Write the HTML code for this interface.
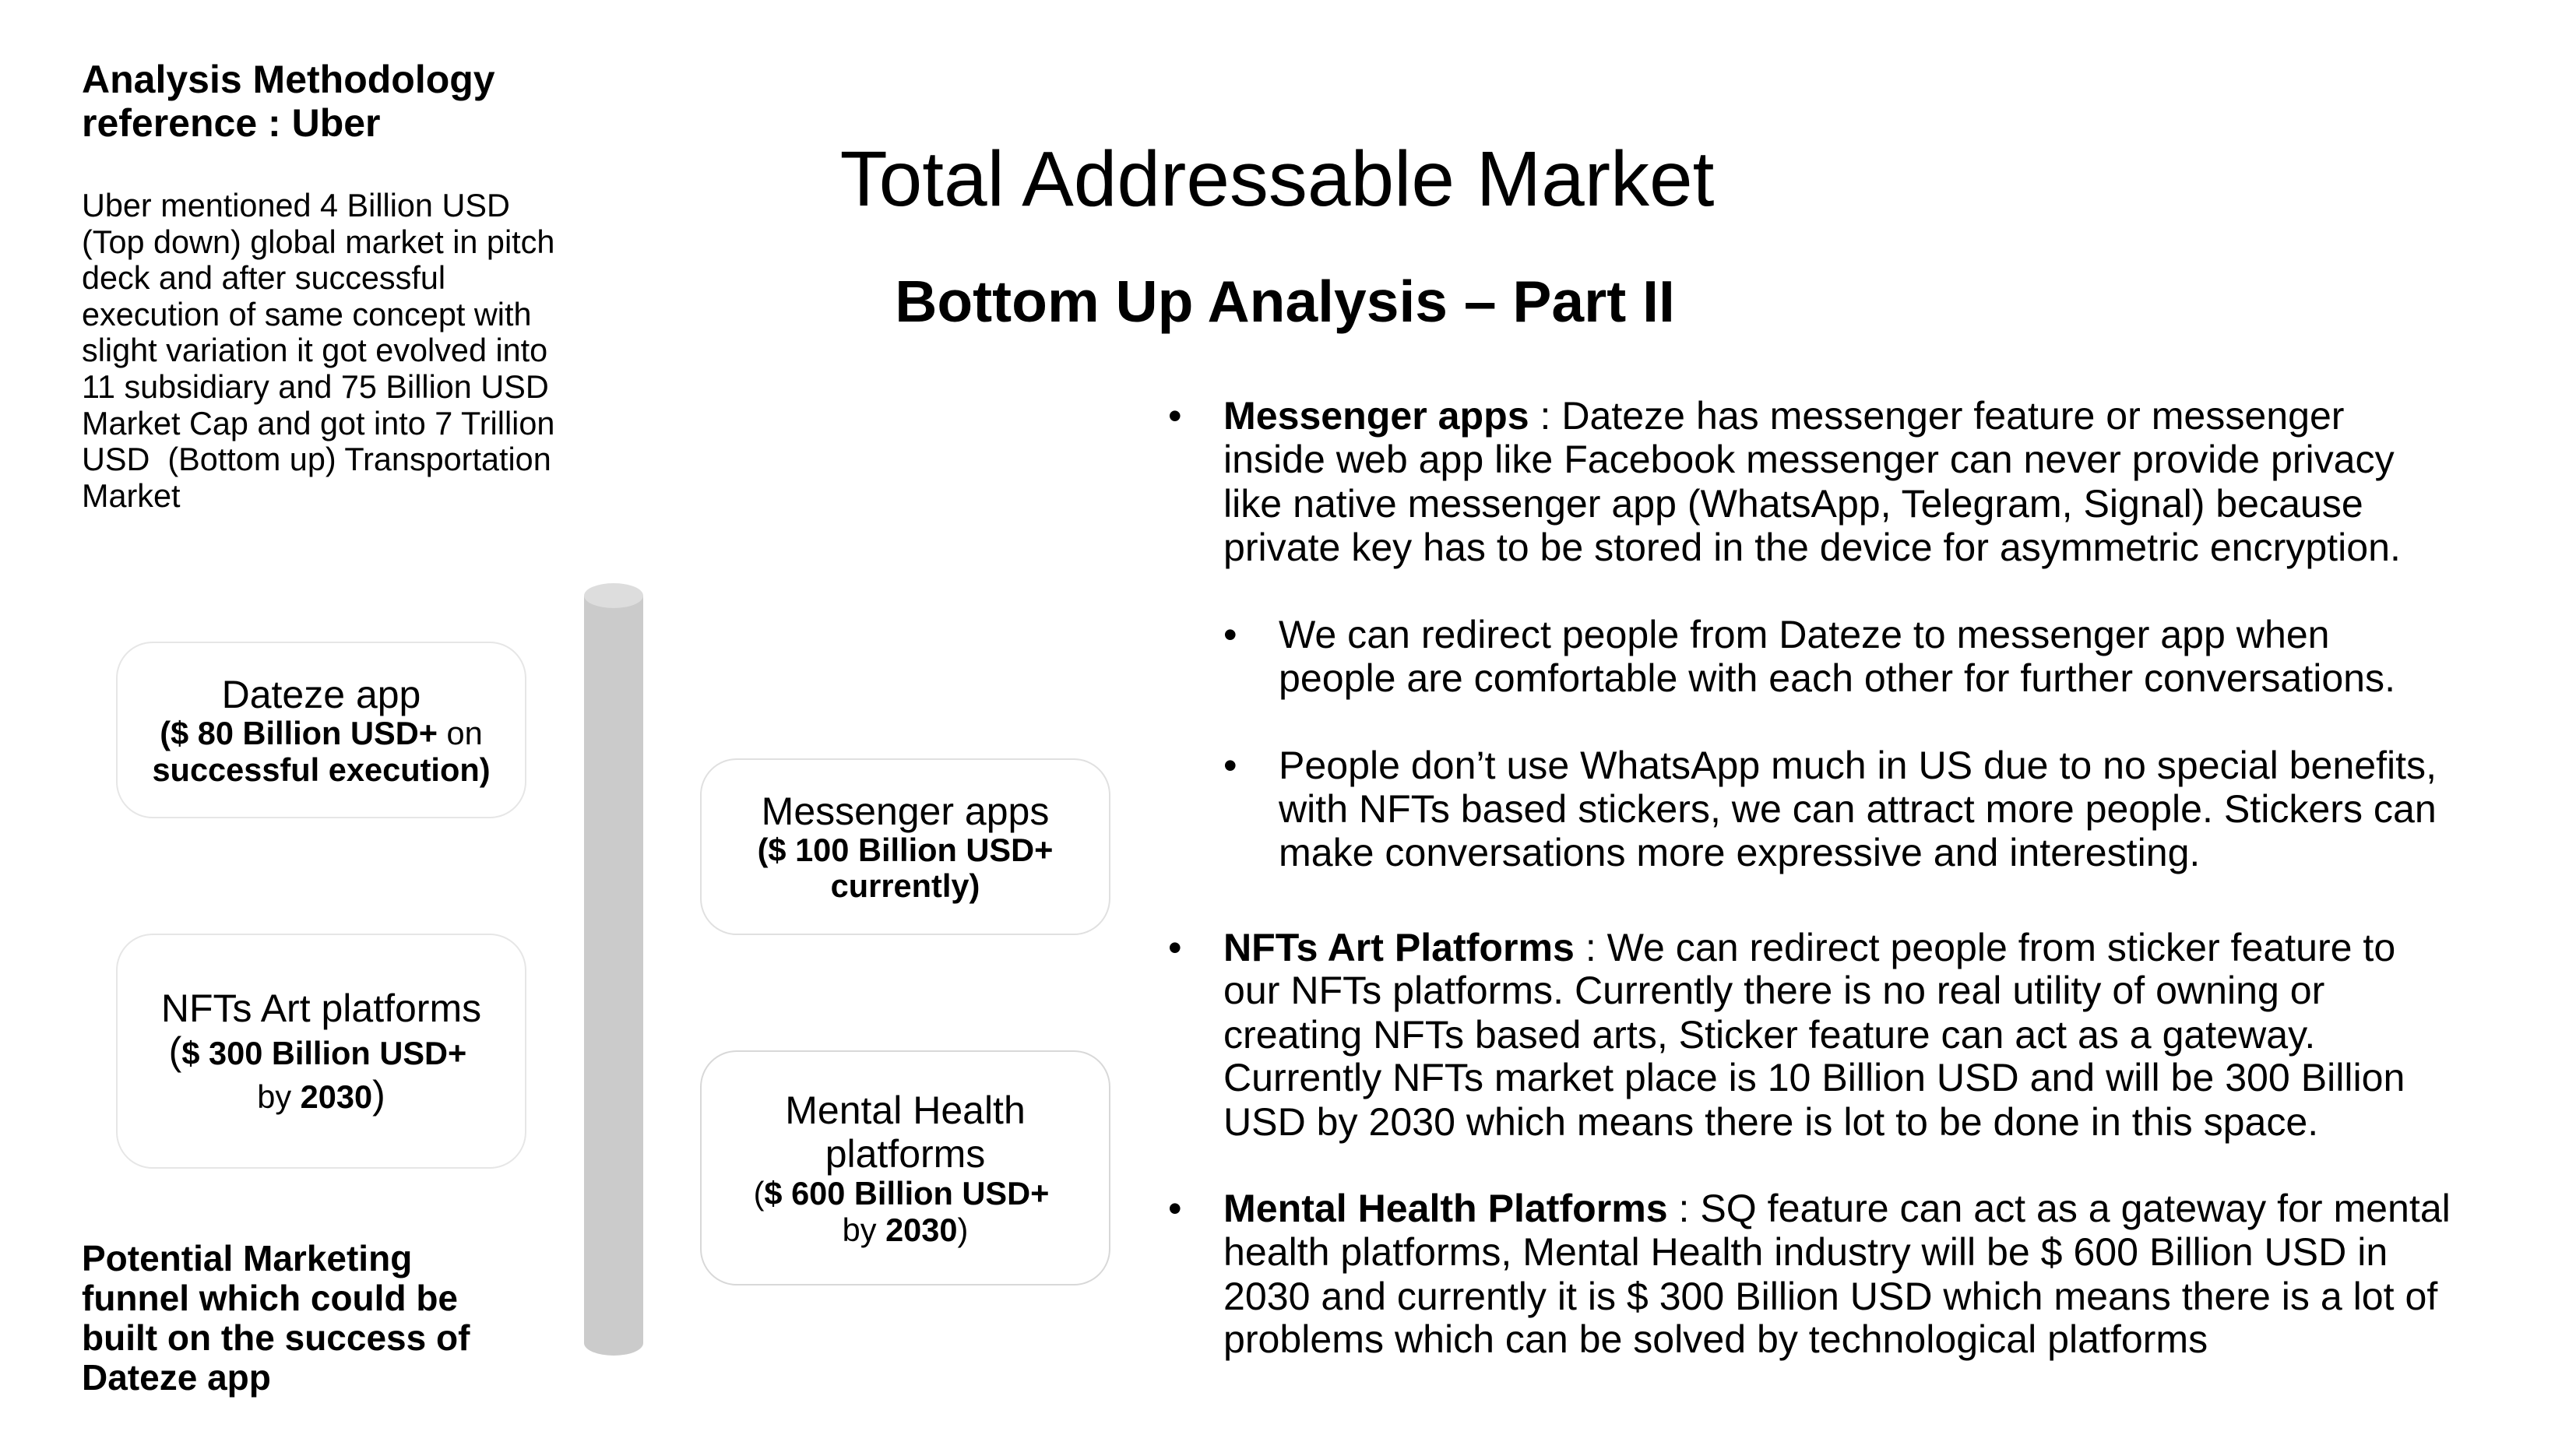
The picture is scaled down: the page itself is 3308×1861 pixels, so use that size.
<!DOCTYPE html>
<html lang="en">
<head>
<meta charset="utf-8">
<title>Total Addressable Market</title>
<style>
html,body{margin:0;padding:0;background:#fff;width:3308px;height:1861px;overflow:hidden}
svg{display:block;position:absolute;left:0;top:0}
text{font-family:"Liberation Sans",Arial,sans-serif;fill:#000;white-space:pre}
.b{font-weight:700}
.m{text-anchor:middle}
.u{font-size:41.4px}
.h{font-size:50px;font-weight:700}
.f{font-size:46px;font-weight:700}
.t{font-size:50.1px}
.c{font-size:50px}
.s{font-size:41.55px}
.box{fill:#fff;stroke:#e6e6e6;stroke-width:2}
</style>
</head>
<body>
<svg width="3308" height="1861" viewBox="0 0 3308 1861">
<rect width="3308" height="1861" fill="#fff"/>

<text x="1640" y="264" class="m" style="font-size:100px">Total Addressable Market</text>
<text x="1650" y="413" class="m b" style="font-size:75px">Bottom Up Analysis – Part II</text>

<g>
<text x="105" y="119" class="h">Analysis Methodology</text>
<text x="105" y="175" class="h">reference : Uber</text>
</g>
<g>
<text x="105" y="278" class="u">Uber mentioned 4 Billion USD</text>
<text x="105" y="325" class="u">(Top down) global market in pitch</text>
<text x="105" y="371" class="u">deck and after successful</text>
<text x="105" y="418" class="u">execution of same concept with</text>
<text x="105" y="464" class="u">slight variation it got evolved into</text>
<text x="105" y="511" class="u">11 subsidiary and 75 Billion USD</text>
<text x="105" y="558" class="u">Market Cap and got into 7 Trillion</text>
<text x="105" y="604" class="u">USD  (Bottom up) Transportation</text>
<text x="105" y="651" class="u">Market</text>
</g>

<g>
<path d="M750 765 V1725 A38 16 0 0 0 826 1725 V765 Z" fill="#cbcbcb"/>
<ellipse cx="788" cy="765" rx="38" ry="16" fill="#dddddd"/>
</g>

<g>
<rect x="150" y="825" width="525" height="225" rx="46" class="box"/>
<text x="412.5" y="909" class="m c">Dateze app</text>
<text x="412.5" y="956" class="m s"><tspan class="b">($ 80 Billion USD+</tspan> on</text>
<text x="412.5" y="1003" class="m s b">successful execution)</text>
</g>
<g>
<rect x="150" y="1200" width="525" height="300" rx="46" class="box"/>
<text x="412.5" y="1312" class="m c">NFTs Art platforms</text>
<text x="408" y="1367" class="m s"><tspan style="font-size:50px">(</tspan><tspan class="b">$ 300 Billion USD+</tspan></text>
<text x="412.5" y="1423" class="m s">by <tspan class="b">2030</tspan><tspan style="font-size:50px">)</tspan></text>
</g>
<g>
<rect x="900" y="975" width="525" height="225" rx="46" class="box" style="stroke:#e0e0e0"/>
<text x="1162.5" y="1059" class="m c">Messenger apps</text>
<text x="1162.5" y="1106" class="m s b">($ 100 Billion USD+</text>
<text x="1162.5" y="1152" class="m s b">currently)</text>
</g>
<g>
<rect x="900" y="1350" width="525" height="300" rx="46" class="box" style="stroke:#d8d8d8"/>
<text x="1162.5" y="1443" class="m c">Mental Health</text>
<text x="1162.5" y="1499" class="m c">platforms</text>
<text x="1157.5" y="1547" class="m s">(<tspan class="b">$ 600 Billion USD+</tspan></text>
<text x="1162.5" y="1594" class="m s">by <tspan class="b">2030</tspan>)</text>
</g>

<g>
<text x="105" y="1632" class="f">Potential Marketing</text>
<text x="105" y="1683" class="f">funnel which could be</text>
<text x="105" y="1734" class="f">built on the success of</text>
<text x="105" y="1785" class="f">Dateze app</text>
</g>

<g>
<text x="1500" y="551" class="t">•</text>
<text x="1571" y="551" class="t"><tspan class="b">Messenger apps</tspan> : Dateze has messenger feature or messenger</text>
<text x="1571" y="607" class="t">inside web app like Facebook messenger can never provide privacy</text>
<text x="1571" y="664" class="t">like native messenger app (WhatsApp, Telegram, Signal) because</text>
<text x="1571" y="720" class="t">private key has to be stored in the device for asymmetric encryption.</text>
</g>
<g>
<text x="1571" y="832" class="t">•</text>
<text x="1642" y="832" class="t">We can redirect people from Dateze to messenger app when</text>
<text x="1642" y="888" class="t">people are comfortable with each other for further conversations.</text>
</g>
<g>
<text x="1571" y="1000" class="t">•</text>
<text x="1642" y="1000" class="t">People don’t use WhatsApp much in US due to no special benefits,</text>
<text x="1642" y="1056" class="t">with NFTs based stickers, we can attract more people. Stickers can</text>
<text x="1642" y="1112" class="t">make conversations more expressive and interesting.</text>
</g>
<g>
<text x="1500" y="1234" class="t">•</text>
<text x="1571" y="1234" class="t"><tspan class="b">NFTs Art Platforms</tspan> : We can redirect people from sticker feature to</text>
<text x="1571" y="1289" class="t">our NFTs platforms. Currently there is no real utility of owning or</text>
<text x="1571" y="1346" class="t">creating NFTs based arts, Sticker feature can act as a gateway.</text>
<text x="1571" y="1401" class="t">Currently NFTs market place is 10 Billion USD and will be 300 Billion</text>
<text x="1571" y="1458" class="t">USD by 2030 which means there is lot to be done in this space.</text>
</g>
<g>
<text x="1500" y="1569" class="t">•</text>
<text x="1571" y="1569" class="t"><tspan class="b">Mental Health Platforms</tspan> : SQ feature can act as a gateway for mental</text>
<text x="1571" y="1625" class="t">health platforms, Mental Health industry will be $ 600 Billion USD in</text>
<text x="1571" y="1682" class="t">2030 and currently it is $ 300 Billion USD which means there is a lot of</text>
<text x="1571" y="1737" class="t">problems which can be solved by technological platforms</text>
</g>
</svg>
</body>
</html>
